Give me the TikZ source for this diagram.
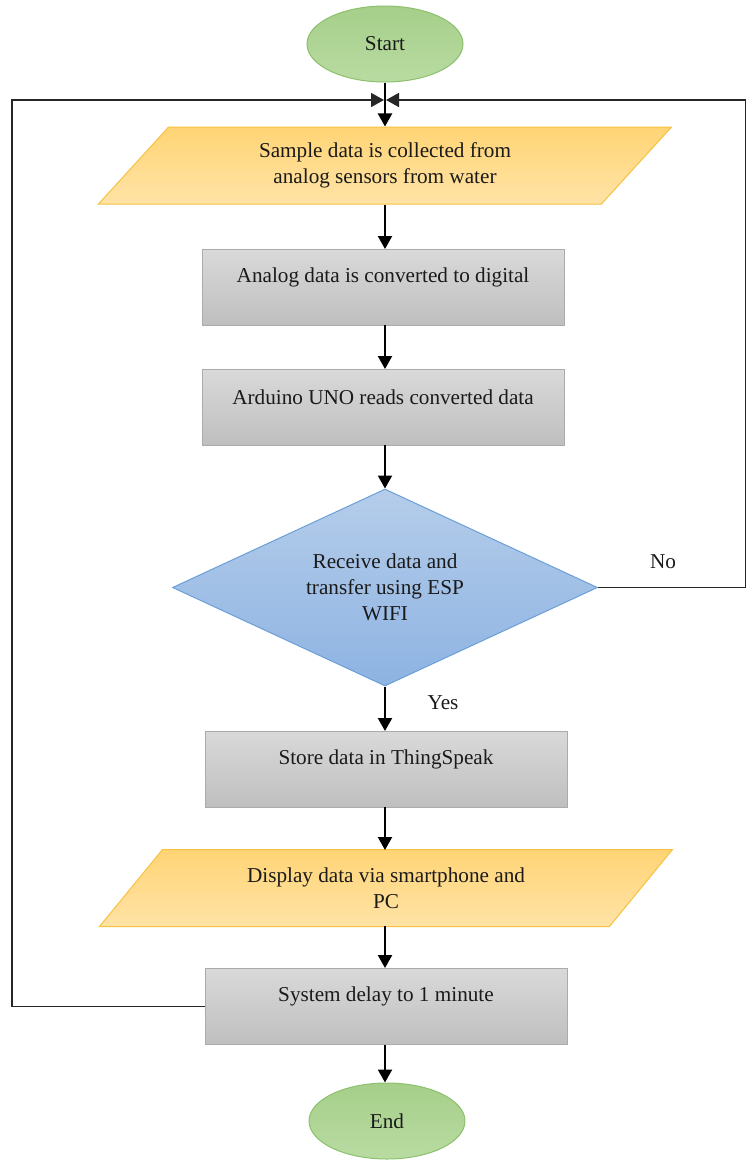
\documentclass[tikz,border=0pt]{standalone}
\usepackage{fontspec}
\setmainfont{Liberation Serif}
\newfontfamily\tnr{Liberation Serif}
\usetikzlibrary{shapes.geometric,arrows.meta}
\definecolor{grnT}{HTML}{A6CF8A}
\definecolor{grnB}{HTML}{B9DBA2}
\definecolor{grnD}{HTML}{8CC06C}
\definecolor{yelT}{HTML}{FFD475}
\definecolor{yelB}{HTML}{FFE3A6}
\definecolor{yelD}{HTML}{F5C242}
\definecolor{gryT}{HTML}{D9D9D9}
\definecolor{gryB}{HTML}{BFBFBF}
\definecolor{gryD}{HTML}{ABABAB}
\definecolor{bluT}{HTML}{B5CDEA}
\definecolor{bluB}{HTML}{8DB3E2}
\definecolor{bluD}{HTML}{6A9FD8}
\definecolor{txt}{HTML}{1A1A1A}
\begin{document}
\begin{tikzpicture}[x=1pt,y=-1pt,
  every node/.style={font=\tnr\fontsize{21.2}{26}\selectfont, text=txt},
  term/.style={ellipse, draw=grnD, line width=1pt, top color=grnT, bottom color=grnB,
    minimum width=156pt, minimum height=76pt, inner sep=0pt},
  io/.style={trapezium, trapezium left angle=33, trapezium right angle=147,
    trapezium stretches body, minimum width=573pt, minimum height=77pt,
    draw=yelD, line width=1pt, top color=yelT, bottom color=yelB, align=center, inner sep=0pt},
  proc/.style={rectangle, draw=gryD, line width=1pt, top color=gryT, bottom color=gryB,
    minimum width=362pt, minimum height=76pt, inner sep=0pt},
  dec/.style={diamond, aspect=2.16, minimum width=425pt, minimum height=197pt,
    draw=bluD, line width=1pt, top color=bluT, bottom color=bluB, align=center, inner sep=0pt},
  ptext/.style={label={[yshift=10pt]center:#1}},
  arr/.style={-{Triangle[length=13pt,width=14pt]}, line width=2.2pt},
  looparr/.style={-{Triangle[length=13pt,width=14pt]}, line width=1.7pt, draw=black!85}
]
\useasboundingbox (0,0) rectangle (747,1160);

\node[term] (start) at (385,44) {Start};
\node[io] (sample) at (385,165.5) {Sample data is collected from\\analog sensors from water};
\node[proc, ptext={Analog data is converted to digital}] (conv) at (383,287) {};
\node[proc, ptext={Arduino UNO reads converted data}] (read) at (383,407) {};
\node[dec] (dec) at (385,587.5) {Receive data and\\transfer using ESP\\WIFI};
\node[proc, ptext={Store data in ThingSpeak}] (store) at (386,769) {};
\node[io] (disp) at (386,888) {Display data via smartphone and\\PC};
\node[proc, ptext={System delay to 1 minute}] (delay) at (386,1006.5) {};
\node[term] (end) at (387,1121) {End};

\node (no) at (663,562) {No};
\node (yes) at (443,703) {Yes};

\coordinate (merge) at (385,100);
\coordinate (lx) at (12,0);
\coordinate (rx) at (745.5,0);

\draw[arr] (start.south) -- (start.south |- sample.north);
\draw[arr] (sample.south -| 385,0) -- (385,249);
\draw[arr] (385,325) -- (385,369);
\draw[arr] (385,445) -- (dec.north);
\draw[arr] (dec.south) -- (385,731);
\draw[arr] (385,807) -- (385,850);
\draw[arr] (385,926) -- (385,968);
\draw[arr] (385,1045) -- (end.north -| 385,0);

\draw[looparr, shorten >=1pt] (delay.west) -| (lx |- merge) -- (merge);
\draw[looparr, shorten >=1pt] (dec.east) -- (rx |- dec.east) |- (merge);
\end{tikzpicture}
\end{document}
